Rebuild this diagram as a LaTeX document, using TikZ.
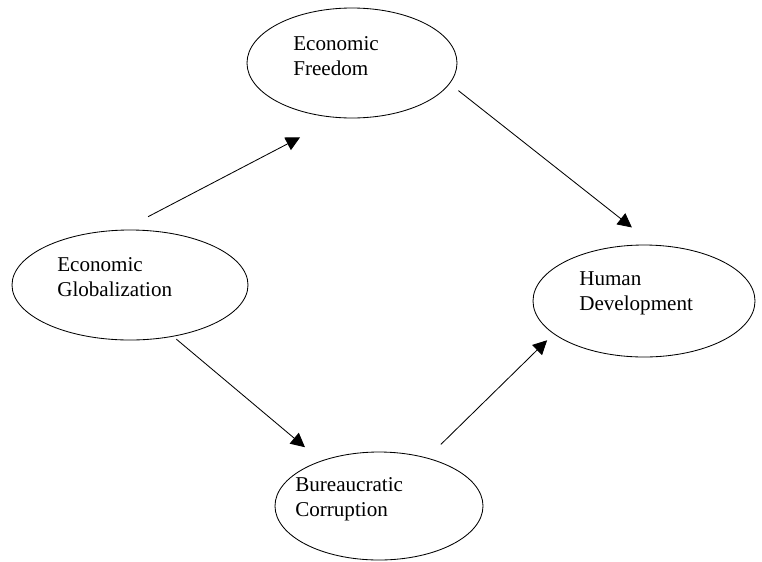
\documentclass[tikz,border=0pt]{standalone}
\usepackage{fontspec}
\setmainfont{Liberation Serif}
\usetikzlibrary{shapes.geometric, arrows.meta}

\begin{document}
\begin{tikzpicture}[x=0.025cm, y=-0.025cm]
  \def\px{0.025cm}
  \tikzset{
    oval/.style={draw, ellipse, inner sep=0pt, line width=0.6pt},
    caption/.style={anchor=west, align=left, inner sep=0pt, font=\fontsize{15}{18}\selectfont},
    link/.style={line width=0.6pt, -{Triangle[length=10pt, width=10pt]}}
  }
  \useasboundingbox (0,0) rectangle (762,561);

  % Draw the four ellipses
  \foreach \name/\cx/\cy/\rx/\ry in {
    free/352/63/105/55,
    glob/130/285/118/55,
    human/644/301/111/56,
    corr/379/506/104/54
  }{
    \node[oval, minimum width=2*\rx*\px, minimum height=2*\ry*\px] (\name) at (\cx,\cy) {};
  }

  % Texts inside the ellipses
  \node[caption] (freeTxt) at (293,56) {Economic\\Freedom};
  \node[caption] (globTxt) at (57,277) {Economic\\Globalization};
  \node[caption] (humanTxt) at (579,293) {Human\\Development};
  \node[caption] (corrTxt) at (295,499) {Bureaucratic\\Corruption};

  % Arrows between the ellipses
  \draw[link, shorten <=0.7cm, shorten >=1.05cm] (glob.97) -- (free.255);
  \draw[link, shorten <=0.275cm, shorten >=0.7cm] (free.348) -- (human.80);
  \draw[link, shorten <=0.1cm, shorten >=0.525cm] (glob.310) -- (corr.142);
  \draw[link, shorten <=0.475cm, shorten >=0.225cm] (corr.45) -- (human.200);

\end{tikzpicture}
\end{document}
